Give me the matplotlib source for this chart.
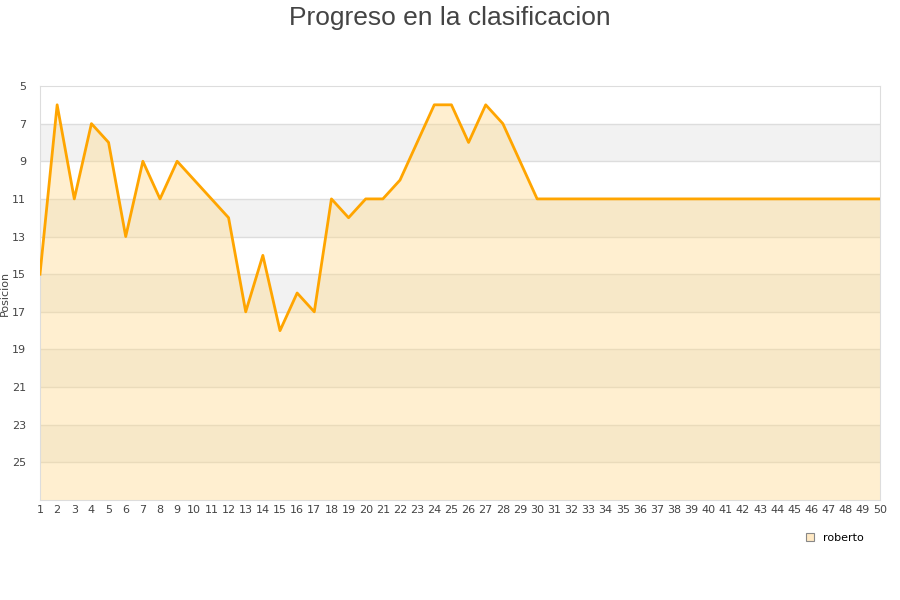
import matplotlib
matplotlib.use("Agg")
import matplotlib.pyplot as plt
from matplotlib.patches import Patch

jornadas = list(range(1, 51))
posicion = [15, 6, 11, 7, 8, 13, 9, 11, 9, 10,
            11, 12, 17, 14, 18, 16, 17, 11, 12, 11,
            11, 10, 8, 6, 6, 8, 6, 7, 9, 11] + [11] * 20
y_ticks = list(range(5, 27, 2))

fig = plt.figure(figsize=(9, 6), dpi=100)
ax = fig.add_axes([40 / 900, 100 / 600, 840 / 900, 414 / 600])

# bandas alternas de fondo
for y0 in range(7, 27, 4):
    ax.axhspan(y0, y0 + 2, color="#f2f2f2", zorder=0, lw=0)
for y in range(7, 27, 2):
    ax.axhline(y, color="#dddddd", lw=1, zorder=1)

ax.fill_between(jornadas, posicion, 27, color="#ffd98a", alpha=0.4, lw=0, zorder=2)
ax.plot(jornadas, posicion, color="#ffa500", lw=2.0, zorder=3)

ax.set_xlim(1, 50)
ax.set_ylim(27, 5)
ax.set_xticks(jornadas)
ax.set_yticks(y_ticks)
ax.tick_params(axis="both", length=0, labelsize=8, colors="#444444")
ax.tick_params(axis="y", pad=10)
for s in ax.spines.values():
    s.set_color("#dddddd")

ax.set_ylabel("Posicion", fontsize=8, color="#444444")
ax.yaxis.set_label_coords(-0.036, 0.5)
fig.suptitle("Progreso en la clasificacion", fontsize=19, color="#444444", y=0.99,
             family="Liberation Sans")

ax.legend(handles=[Patch(facecolor="#ffe9c4", edgecolor="#888888", lw=0.8, label="roberto")],
          loc="upper right", bbox_to_anchor=(0.993, -0.055), frameon=False,
          fontsize=8, handlelength=0.8, handleheight=0.8, handletextpad=0.8)

fig.savefig("out.png", dpi=100)
